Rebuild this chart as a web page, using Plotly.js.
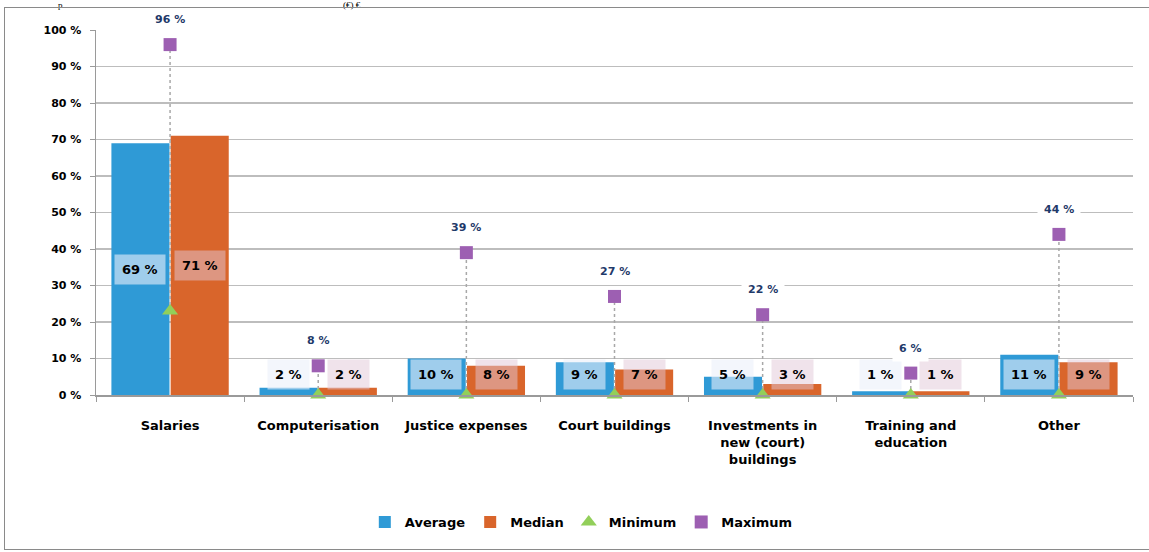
<!DOCTYPE html>
<html><head><meta charset="utf-8">
<script src="https://cdn.plot.ly/plotly-3.0.1.min.js"></script>
<style>
html,body{margin:0;padding:0;background:#fff;overflow:hidden}
#chart{position:absolute;left:0;top:0;width:1149px;height:552px}
#frame{position:absolute;left:4px;top:7px;width:1150px;height:543px;border:1.5px solid #8a8a8a;pointer-events:none;box-sizing:border-box}
</style></head><body>
<div id="chart"></div>
<div id="frame"></div>
<script>
const categories = ["Salaries", "Computerisation", "Justice expenses", "Court buildings",
  "Investments in<br>new (court)<br>buildings", "Training and<br>education", "Other"];
const averageValues = [69, 2, 10, 9, 5, 1, 11];
const medianValues  = [71, 2, 8, 7, 3, 1, 9];
const minimumValues = [23, 0, 0, 0, 0, 0, 0];
const maximumValues = [96, 8, 39, 27, 22, 6, 44];
const yTickValues = [0, 10, 20, 30, 40, 50, 60, 70, 80, 90, 100];
const yTickLabels = yTickValues.map(v => v + " %");
const seriesNames = ["Average", "Median", "Minimum", "Maximum"];

const BLUE = "#2f9ad6", ORANGE = "#d9652b", GREEN = "#92cf5a", PURPLE = "#9d5fb2";
const FONT = "DejaVu Sans, Liberation Sans, Arial, sans-serif";

// high-low lines from minimum to maximum
const hlX = [], hlY = [];
categories.forEach((c, i) => { hlX.push(c, c, null); hlY.push(minimumValues[i], maximumValues[i], null); });

const traces = [
  {type: "bar", name: seriesNames[0], x: categories, y: averageValues, marker: {color: BLUE}, hoverinfo: "skip"},
  {type: "bar", name: seriesNames[1], x: categories, y: medianValues, marker: {color: ORANGE}, hoverinfo: "skip"},
  {type: "scatter", mode: "lines", x: hlX, y: hlY, showlegend: false, hoverinfo: "skip",
   line: {color: "#a8a8a8", width: 1.5, dash: "dot"}, cliponaxis: false},
  {type: "scatter", mode: "markers", name: seriesNames[2], x: categories, y: minimumValues,
   marker: {symbol: "triangle-up", size: 14, color: GREEN}, cliponaxis: false},
  {type: "scatter", mode: "markers", name: seriesNames[3], x: categories, y: maximumValues,
   marker: {symbol: "square", size: 13, color: PURPLE}, cliponaxis: false}
];

const annotations = [];
categories.forEach((c, i) => {
  annotations.push({x: c, y: Math.max(averageValues[i] / 2, 5.6), xref: "x", yref: "y", xshift: -30,
    text: averageValues[i] + " %", showarrow: false, bgcolor: "rgba(235,240,250,0.6)", borderpad: 7,
    font: {family: FONT, size: 13, color: "#000", weight: "bold"}});
  annotations.push({x: c, y: Math.max(medianValues[i] / 2, 5.6), xref: "x", yref: "y", xshift: 30,
    text: medianValues[i] + " %", showarrow: false, bgcolor: "rgba(225,200,215,0.5)", borderpad: 7,
    font: {family: FONT, size: 13, color: "#000", weight: "bold"}});
  annotations.push({x: c, y: maximumValues[i], xref: "x", yref: "y", yshift: 25,
    text: maximumValues[i] + " %", showarrow: false, bgcolor: "#ffffff", borderpad: 6,
    font: {family: FONT, size: 11, color: "#1f3a6a", weight: "bold"}});
});
// fragments of a heading above the chart
annotations.push({xref: "paper", yref: "paper", x: 0, y: 1, xshift: -36, yshift: 18, xanchor: "center", yanchor: "bottom",
  text: "p", showarrow: false, font: {family: "Liberation Serif, Times New Roman, serif", size: 9, color: "#000"}});
annotations.push({xref: "paper", yref: "paper", x: 0, y: 1, xshift: 256, yshift: 18, xanchor: "center", yanchor: "bottom",
  text: "(€) €", showarrow: false, font: {family: "Liberation Serif, Times New Roman, serif", size: 9, color: "#000"}});

const layout = {
  width: 1149, height: 552,
  margin: {l: 96, r: 16, t: 30, b: 157},
  paper_bgcolor: "#ffffff", plot_bgcolor: "#ffffff",
  barmode: "group", bargap: 0.2, bargroupgap: 0.02,
  showlegend: true,
  legend: {orientation: "h", x: 0.468, xanchor: "center", y: -0.348, yanchor: "middle",
    font: {family: FONT, size: 13, color: "#000", weight: "bold"}, itemwidth: 30, traceorder: "normal"},
  xaxis: {type: "category", tickson: "boundaries", ticks: "outside", ticklen: 5, tickcolor: "#9a9a9a",
    showline: true, linecolor: "#9a9a9a", linewidth: 1.5, showgrid: false,
    tickfont: {family: FONT, size: 13, color: "#000", weight: "bold"}, ticklabelstandoff: 18},
  yaxis: {range: [0, 100], tickvals: yTickValues, ticktext: yTickLabels, ticks: "outside", ticklen: 5,
    tickcolor: "#9a9a9a", showline: true, linecolor: "#9a9a9a", linewidth: 1.5,
    showgrid: true, gridcolor: "#bdbdbd", gridwidth: 1.6, zeroline: false,
    tickfont: {family: FONT, size: 11, color: "#000", weight: "bold"}, ticklabelstandoff: 6},
  annotations: annotations
};

Plotly.newPlot("chart", traces, layout, {staticPlot: true, displayModeBar: false});
</script>
</body></html>
